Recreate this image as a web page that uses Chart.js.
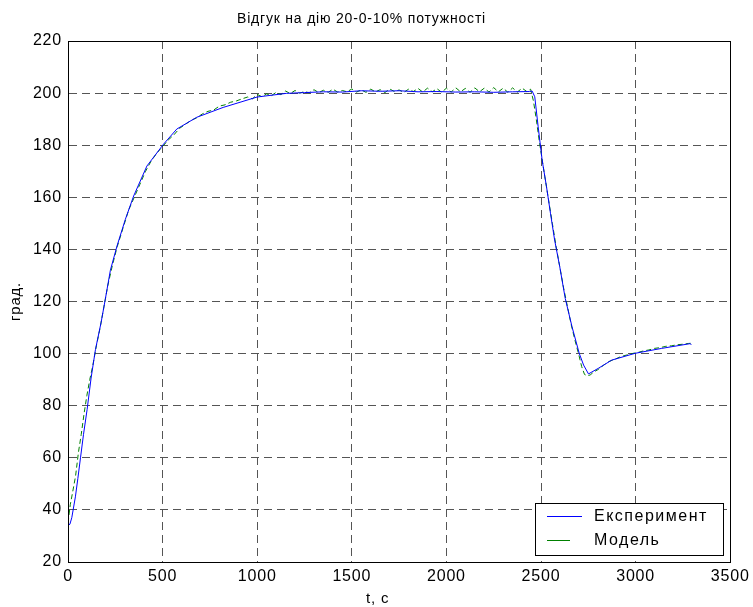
<!DOCTYPE html>
<html>
<head>
<meta charset="utf-8">
<script src="https://cdn.jsdelivr.net/npm/chart.js@4.4.1/dist/chart.umd.min.js"></script>
<style>
  html,body{margin:0;padding:0;background:#fff;}
  #wrap{width:753px;height:607px;}
</style>
</head>
<body>
<div id="wrap"><canvas id="chart" width="753" height="607"></canvas></div>
<script>
// titles & labels
const chartTitle = 'Відгук на дію 20-0-10% потужності';
const xTitle = 't, c';
const yTitle = 'град.';
const seriesNames = ['Експеримент', 'Модель'];

// axis ticks
const xTicks = [0, 500, 1000, 1500, 2000, 2500, 3000, 3500];
const yTicks = [20, 40, 60, 80, 100, 120, 140, 160, 180, 200, 220];

// experiment (blue)
const expT = [0, 10, 20, 39, 52, 66, 82, 101, 122, 145, 175, 197, 224, 259, 303, 347, 417, 505, 575, 680, 820, 1000, 1154,
  1250, 1350, 1450, 1550, 1650, 1750, 1850, 1950, 2050, 2150, 2250, 2350, 2440, 2453,
  2467, 2485, 2506, 2529, 2550, 2572, 2599, 2628, 2664, 2702, 2725, 2751, 2804, 2874, 2997, 3138, 3287, 3295];
const expY = [34, 34.5, 37, 45, 52, 60, 69, 78.5, 90.6, 101.5, 112, 120.8, 132, 141.3, 151.5, 160.5, 172, 180.4, 186.2, 190.7, 194.5, 198.5, 199.9,
  200.2, 200.5, 200.4, 200.9, 200.7, 200.9, 200.5, 200.6, 200.4, 200.5, 200.3, 200.5, 200.6, 200.8,
  198.6, 187.1, 174.3, 164.1, 153.9, 143.6, 133.4, 121.2, 110.3, 100.1, 95.6, 92.2, 94.4, 97.5, 100.1, 102, 103.8, 103.5];

// model (green)
const modT = [0, 12, 25, 40, 55, 70, 85, 100, 115, 130, 150, 170, 190, 210, 235, 260, 290, 320, 350, 380, 410, 440, 470, 500,
  530, 560, 590, 620, 650, 680, 710, 740, 770, 800, 830, 860, 890, 920, 950, 975, 1000, 1025, 1050, 1075, 1100, 1125, 1150, 1175,
  1200, 1225, 1250, 1275, 1300, 1325, 1350, 1375, 1400, 1425, 1450, 1475, 1500, 1525, 1550, 1575, 1600, 1625, 1650, 1675,
  1700, 1725, 1750, 1775, 1800, 1825, 1850, 1875, 1900, 1925, 1950, 1975, 2000, 2025, 2050, 2075, 2100, 2125, 2150, 2175,
  2200, 2225, 2250, 2275, 2300, 2325, 2350, 2375, 2400, 2425, 2445, 2460, 2475, 2490, 2505, 2520, 2540, 2560, 2580, 2600,
  2620, 2640, 2660, 2680, 2700, 2715, 2730, 2745, 2760, 2780, 2800, 2830, 2860, 2890, 2920, 2950, 2980, 3010, 3040, 3070,
  3100, 3130, 3160, 3190, 3220, 3250, 3280, 3300];
const modY = [35, 42, 47, 53, 62, 69, 77, 84, 90, 95, 103, 110, 118, 126, 134, 141, 148, 155, 160, 165, 170, 174, 177, 179.5,
  182, 184, 186.5, 188, 189.5, 190.5, 192, 193, 193.5, 195, 195.5, 196.5, 197, 197.8, 198.5, 197.8, 199.5, 198.6, 199.7, 199, 200.3, 199.4, 200.8, 199.8,
  201, 200, 200.6, 200.1, 201.3, 200.2, 201.1, 200.3, 201.5, 200.4, 201, 200.5, 201.6, 200.4, 201.2, 200.3, 201.5, 200.5, 201.3, 200.2,
  201.6, 200.6, 201.2, 200.3, 201.5, 200.6, 201.8, 200.4, 201.9, 200.5, 201.7, 200.3, 201.9, 200.4, 202, 200.5, 201.8, 200.3, 202, 200.5,
  201.9, 200.4, 202.1, 200.5, 201.9, 200.3, 202, 200.4, 201.9, 200.6, 201.5, 197, 190, 182, 175, 168, 159, 150, 141, 133,
  125, 118, 111, 105, 99.5, 95, 92, 91.5, 91.8, 93, 93.8, 95.5, 97, 97.8, 98.8, 99.4, 100, 100.4, 101, 101.4,
  102, 102.3, 102.8, 103, 103.4, 103.6, 103.9, 104];

const FONT = 'Arial, "Liberation Sans", sans-serif';
const gridDash = [8, 5];

// box, title, x-title and legend drawn the way the original figure has them
const matlabDecor = {
  id: 'matlabDecor',
  beforeDraw(chart){ chart.ctx.letterSpacing = '0.8px'; },
  afterDraw(chart){
    const {ctx, chartArea:a} = chart;
    ctx.save();
    ctx.strokeStyle = '#000'; ctx.lineWidth = 1;
    ctx.strokeRect(Math.round(a.left)+0.5, Math.round(a.top)+0.5, Math.round(a.right-a.left), Math.round(a.bottom-a.top));

    ctx.fillStyle = '#000';
    ctx.textBaseline = 'alphabetic';
    ctx.textAlign = 'left';
    ctx.font = '14px ' + FONT;
    ctx.fillText(chartTitle, 237, 23);
    ctx.font = '15px ' + FONT;
    ctx.fillText(xTitle, 366, 603);

    // legend
    const lx = 535.5, ly = 503.5, lw = 188, lh = 52;
    ctx.fillStyle = '#fff';
    ctx.fillRect(lx, ly, lw, lh);
    ctx.strokeStyle = '#000';
    ctx.strokeRect(lx, ly, lw, lh);
    const ds = chart.data.datasets;
    const rows = [516.5, 540.5];
    const ends = [582, 570];
    ds.forEach((d, i) => {
      ctx.strokeStyle = d.borderColor;
      ctx.beginPath();
      ctx.moveTo(547, rows[i]); ctx.lineTo(ends[i], rows[i]);
      ctx.stroke();
      ctx.fillStyle = '#000';
      ctx.font = '16px ' + FONT;
      ctx.letterSpacing = '1.5px';
      ctx.textBaseline = 'middle';
      ctx.fillText(d.label, 594, rows[i]);
    });
    ctx.restore();
  }
};

const toPts = (ts, ys) => ts.map((t, i) => ({x: t, y: ys[i]}));

new Chart(document.getElementById('chart'), {
  type: 'line',
  data: {
    datasets: [
      {label: seriesNames[0], data: toPts(expT, expY), borderColor: '#0000ff', borderWidth: 1, pointRadius: 0, tension: 0},
      {label: seriesNames[1], data: toPts(modT, modY), borderColor: '#008000', borderWidth: 1, borderDash: [5, 3], pointRadius: 0, tension: 0}
    ]
  },
  options: {
    responsive: false,
    animation: false,
    layout: {padding: {top: 41, right: 21, left: 0, bottom: 0}},
    plugins: {legend: {display: false}, title: {display: false}, tooltip: {enabled: false}},
    scales: {
      x: {
        type: 'linear', min: 0, max: 3500,
        afterBuildTicks: s => { s.ticks = xTicks.map(v => ({value: v})); },
        afterFit: s => { s.height = 45; },
        grid: {color: '#555', drawTicks: false},
        border: {color: '#000', dash: gridDash},
        ticks: {color: '#000', padding: 5, font: {family: FONT, size: 16}, maxRotation: 0, callback: v => String(v)}
      },
      y: {
        type: 'linear', min: 20, max: 220,
        afterBuildTicks: s => { s.ticks = yTicks.map(v => ({value: v})); },
        afterFit: s => { s.width = 68; },
        grid: {color: '#555', drawTicks: false},
        border: {color: '#000', dash: gridDash},
        title: {display: true, text: yTitle, color: '#000', font: {family: FONT, size: 15}, padding: {top: 7, bottom: 0}},
        ticks: {color: '#000', padding: 6, font: {family: FONT, size: 16}, callback: v => String(v)}
      }
    }
  },
  plugins: [matlabDecor]
});
</script>
</body>
</html>
